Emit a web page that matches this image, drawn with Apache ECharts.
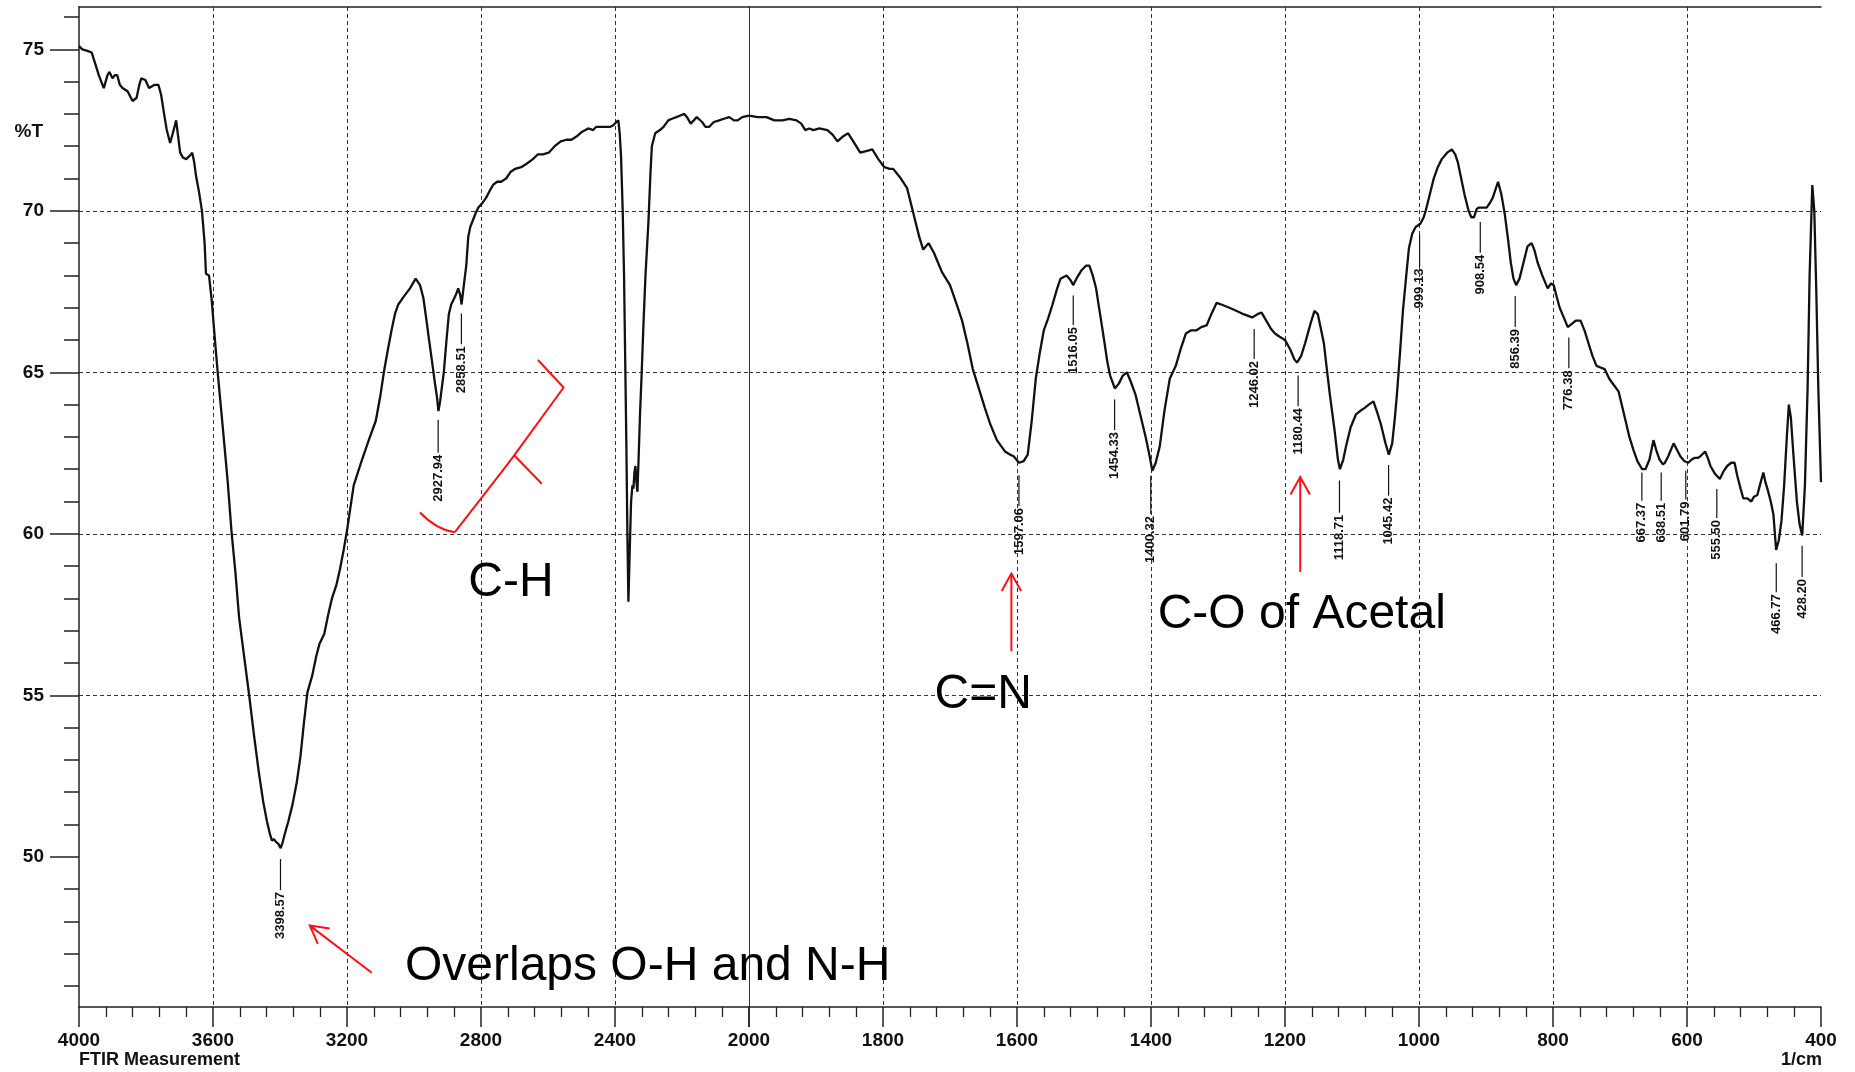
<!DOCTYPE html>
<html><head><meta charset="utf-8">
<script src="https://cdn.jsdelivr.net/npm/echarts@6/dist/echarts.min.js"></script>
<style>html,body{margin:0;padding:0;background:#fff}#c{width:1855px;height:1072px}</style>
</head><body><div id="c"></div>
<script>
// ---------- DATA ----------
// FTIR spectrum, wavenumber (1/cm) vs %T, high-wavenumber part (4000-2000)
const spectrumHigh = [
[4000,75.1],[3990,75.0],[3975,74.95],[3962,74.9],[3950,74.5],[3941,74.2],[3926,73.8],[3915,74.2],[3909,74.3],[3900,74.1],[3893,74.2],[3886,74.2],[3878,73.9],[3870,73.8],[3862,73.75],[3855,73.7],[3840,73.4],[3828,73.5],[3820,73.9],[3814,74.1],[3802,74.05],[3791,73.8],[3783,73.85],[3775,73.9],[3763,73.9],[3755,73.6],[3746,73.0],[3738,72.5],[3728,72.1],[3720,72.4],[3710,72.8],[3704,72.3],[3698,71.8],[3690,71.65],[3680,71.6],[3670,71.7],[3662,71.8],[3656,71.5],[3651,71.1],[3642,70.6],[3633,70.0],[3625,69.0],[3621,68.05],[3612,68.0],[3604,67.25],[3595,66.1],[3586,65.0],[3570,63.2],[3556,61.6],[3545,60.1],[3533,58.8],[3522,57.4],[3507,56.2],[3492,55.0],[3478,53.8],[3463,52.6],[3450,51.7],[3439,51.1],[3430,50.7],[3424,50.5],[3418,50.55],[3412,50.46],[3405,50.4],[3398,50.27],[3392,50.45],[3386,50.7],[3375,51.1],[3363,51.6],[3350,52.3],[3339,53.1],[3328,54.2],[3318,55.1],[3304,55.6],[3292,56.2],[3282,56.6],[3268,56.9],[3256,57.5],[3245,58.0],[3232,58.4],[3221,58.9],[3210,59.5],[3200,60.1],
[3180,61.5],[3155,62.3],[3135,62.9],[3114,63.5],[3100,64.3],[3090,65.0],[3078,65.7],[3067,66.3],[3057,66.8],[3047,67.1],[3030,67.35],[3012,67.6],[2995,67.9],[2982,67.7],[2972,67.3],[2964,66.7],[2955,66.0],[2947,65.4],[2938,64.7],[2931,64.2],[2927,63.8],[2922,64.1],[2916,64.6],[2911,65.0],[2903,66.0],[2896,66.8],[2889,67.1],[2882,67.25],[2875,67.4],[2868,67.6],[2862,67.4],[2858,67.1],[2850,67.8],[2844,68.3],[2838,69.2],[2832,69.5],[2817,69.9],[2808,70.1],[2799,70.2],[2785,70.4],[2775,70.6],[2764,70.8],[2752,70.9],[2740,70.9],[2725,71.0],[2712,71.2],[2698,71.3],[2680,71.35],[2665,71.45],[2645,71.6],[2630,71.75],[2615,71.75],[2598,71.8],[2580,72.0],[2562,72.15],[2545,72.2],[2530,72.2],[2515,72.3],[2498,72.45],[2480,72.55],[2465,72.5],[2456,72.6],[2440,72.6],[2425,72.6],[2414,72.6],[2405,72.65],[2396,72.75],[2390,72.8],[2386,72.4],[2382,71.7],[2377,70.0],[2373,68.0],[2369,65.0],[2366,62.7],[2363,60.0],[2360,57.9],[2356,59.5],[2352,61.0],[2348,61.5],[2345,61.4],[2342,61.9],[2339,62.1],[2336,61.6],[2333,61.3],[2329,62.5],[2325,63.8],[2321,64.8],[2315,66.5],[2309,68.0],[2300,69.7],[2294,71.2],[2290,72.0],[2280,72.4],[2266,72.5],[2255,72.6],[2241,72.8],[2230,72.85],[2217,72.9],[2205,72.95],[2193,73.0],[2185,72.9],[2174,72.7],[2165,72.8],[2156,72.9],[2140,72.75],[2130,72.6],[2119,72.6],[2105,72.75],[2089,72.8],[2075,72.85],[2059,72.9],[2045,72.8],[2034,72.8],[2020,72.9],[2000,72.95]
];
// low-wavenumber part (2000-400)
const spectrumLow = [
[2000,72.95],[1987,72.9],[1974,72.9],[1962,72.8],[1950,72.8],[1940,72.85],[1929,72.8],[1922,72.7],[1916,72.5],[1910,72.55],[1904,72.5],[1895,72.55],[1883,72.5],[1875,72.35],[1868,72.15],[1860,72.3],[1852,72.4],[1843,72.1],[1834,71.8],[1825,71.85],[1816,71.9],[1807,71.6],[1798,71.35],[1790,71.3],[1785,71.3],[1775,71.05],[1764,70.7],[1758,70.2],[1752,69.7],[1746,69.2],[1740,68.8],[1732,69.0],[1724,68.7],[1718,68.4],[1712,68.1],[1706,67.9],[1700,67.7],[1690,67.1],[1682,66.6],[1674,65.9],[1666,65.1],[1657,64.5],[1648,63.9],[1640,63.4],[1630,62.9],[1618,62.55],[1610,62.45],[1605,62.4],[1597,62.2],[1590,62.25],[1584,62.45],[1578,63.5],[1572,64.8],[1566,65.6],[1560,66.3],[1553,66.7],[1547,67.1],[1540,67.6],[1535,67.9],[1526,68.0],[1520,67.85],[1516,67.7],[1510,67.95],[1504,68.15],[1497,68.3],[1492,68.3],[1487,68.0],[1482,67.6],[1476,66.8],[1470,66.0],[1465,65.3],[1461,64.9],[1454,64.5],[1448,64.65],[1442,64.9],[1436,65.0],[1430,64.7],[1423,64.3],[1415,63.6],[1408,63.0],[1402,62.4],[1398,61.95],[1393,62.2],[1387,62.7],[1380,63.8],[1372,64.8],[1363,65.2],[1356,65.7],[1348,66.2],[1340,66.3],[1332,66.3],[1325,66.4],[1317,66.45],[1310,66.8],[1302,67.15],[1295,67.1],[1283,67.0],[1272,66.9],[1262,66.8],
[1249,66.7],[1241,66.8],[1235,66.85],[1228,66.6],[1221,66.35],[1215,66.2],[1208,66.1],[1200,66.0],[1192,65.7],[1186,65.4],[1182,65.3],[1176,65.5],[1170,65.9],[1162,66.5],[1156,66.9],[1151,66.8],[1147,66.4],[1142,65.9],[1137,65.0],[1133,64.3],[1126,63.2],[1121,62.3],[1118,62.0],[1113,62.3],[1109,62.7],[1102,63.3],[1094,63.7],[1088,63.8],[1081,63.9],[1075,64.0],[1068,64.1],[1063,63.8],[1057,63.4],[1050,62.8],[1045,62.45],[1040,62.8],[1036,63.6],[1033,64.3],[1028,65.7],[1024,66.9],[1019,68.0],[1015,68.85],[1010,69.3],[1005,69.5],[998,69.6],[993,69.8],[990,70.0],[984,70.5],[978,71.0],[972,71.35],[966,71.6],[958,71.8],[951,71.9],[946,71.75],[942,71.5],[937,71.0],[932,70.5],[926,70.0],[922,69.8],[918,69.8],[914,70.05],[911,70.1],[905,70.1],[899,70.1],[894,70.25],[890,70.4],[886,70.65],[882,70.9],[877,70.5],[872,69.9],[867,69.1],[863,68.4],[859,67.9],[855,67.7],[850,67.9],[844,68.4],[838,68.9],[832,69.0],[828,68.8],[823,68.4],[816,68.0],[808,67.6],[803,67.75],[799,67.7],[794,67.3],[790,67.0],[784,66.7],[778,66.4],[772,66.5],[766,66.6],[759,66.6],[753,66.3],[747,65.9],[741,65.5],[735,65.2],[729,65.15],[723,65.1],[716,64.8],[709,64.6],[702,64.4],[694,63.7],[686,63.0],[680,62.6],[674,62.25],[667,62.0],[662,62.0],[656,62.3],[650,62.9],[646,62.6],[641,62.3],[636,62.15],[633,62.2],[628,62.4],[620,62.8],[615,62.6],[610,62.4],[604,62.25],[598,62.2],[593,62.3],[589,62.35],[584,62.35],[580,62.4],[573,62.55],[569,62.35],[565,62.1],[558,61.85],[551,61.7],[545,61.95],[540,62.1],[534,62.2],[529,62.2],[525,61.8],[520,61.4],[516,61.1],[510,61.1],[504,61.0],[500,61.15],[495,61.2],[490,61.6],[486,61.9],[483,61.6],[480,61.4],[475,61.0],[471,60.6],[467,59.5],[463,59.8],[459,60.4],[455,61.5],[451,63.0],[448,64.0],[445,63.6],[441,62.4],[436,61.0],[432,60.3],[428,59.95],[424,61.5],[420,64.5],[417,68.0],[413,70.8],[410,70.0],[407,67.5],[404,64.5],[400,61.6]
];
// peak labels (text), top of leader line and top of the text, in %T
const peakNames   = ['3398.57','2927.94','2858.51','1597.06','1516.05','1454.33','1400.32','1246.02','1180.44','1118.71','1045.42','999.13','908.54','856.39','776.38','667.37','638.51','601.79','555.50','466.77','428.20'];
const peakLineTop = [49.93,63.53,66.82,61.81,67.38,64.16,61.8,66.34,64.9,61.65,62.13,69.27,69.65,67.36,66.08,61.9,61.9,61.95,61.39,59.09,59.63];
const peakTextTop = [48.91,62.45,65.81,60.8,66.4,63.15,60.55,65.35,63.89,60.59,61.12,68.21,68.64,66.34,65.06,60.96,60.96,61.0,60.43,58.13,58.6];
// y-axis tick values
const yMajorTicks = [50,55,60,65,70,75];
const yMinorTicks = [46,47,48,49,50,51,52,53,54,55,56,57,58,59,60,61,62,63,64,65,66,67,68,69,70,71,72,73,74,75,76];
const Y_MIN = 45.35, Y_MAX = 76.31;

// ---------- ANNOTATIONS (data coordinates: wavenumber, %T) ----------
const notesHigh = [
  {text:'C-H', w:2838, v:58.48},
  {text:'Overlaps O-H and N-H', w:3027, v:46.59}
];
const notesLow = [
  {text:'C=N', w:1723, v:55.01},
  {text:'C-O of Acetal', w:1390, v:57.49}
];
const arrowsHigh = [ {tail:[3126,46.41], tip:[3311,47.87]} ];
const arrowsLow  = [ {tail:[1608.4,56.36], tip:[1608.4,58.77]}, {tail:[1177.3,58.82], tip:[1177.3,61.76]} ];
const braceParts = [
  [[2982,60.66],[2931,60.24],[2878,60.05]],
  [[2878,60.05],[2721,62.15],[2701,62.43]],
  [[2701,62.43],[2618.5,61.55]],
  [[2701,62.43],[2553.4,64.53],[2630,65.38]]
];

const FONT = "'Liberation Sans', Arial, Helvetica, sans-serif";
const RED = '#ff1010';
const INK = '#111111';

const chart = echarts.init(document.getElementById('c'), null, {renderer:'canvas'});

function peakItems(filterFn){
  const out = [];
  peakNames.forEach((n,i)=>{ const w = parseFloat(n); if (filterFn(w)) out.push([w, peakLineTop[i], peakTextTop[i], i]); });
  return out;
}
function renderPeak(params, api){
  const w = api.value(0), i = api.value(3);
  const a = api.coord([w, api.value(1)]);
  const b = api.coord([w, api.value(2)]);
  return {type:'group', children:[
    {type:'line', shape:{x1:a[0], y1:a[1], x2:b[0], y2:b[1]-2}, style:{stroke:INK, lineWidth:1.2}},
    {type:'text', x:b[0], y:b[1], rotation:Math.PI/2,
     style:{text:peakNames[i], fontSize:13, fontWeight:'bold', fontFamily:FONT, fill:INK, align:'right', verticalAlign:'middle'}}
  ]};
}
function arrowShapes(api, arr){
  const a = api.coord(arr.tail), b = api.coord(arr.tip);
  const dx = a[0]-b[0], dy = a[1]-b[1], L = Math.hypot(dx,dy), ux = dx/L, uy = dy/L;
  const len = 20, ang = 29*Math.PI/180;
  const rot = t => [ux*Math.cos(t)-uy*Math.sin(t), ux*Math.sin(t)+uy*Math.cos(t)];
  const l1 = rot(ang), l2 = rot(-ang);
  return [
    {type:'line', shape:{x1:a[0], y1:a[1], x2:b[0], y2:b[1]}, style:{stroke:RED, lineWidth:2}},
    {type:'polyline', shape:{points:[[b[0]+l1[0]*len, b[1]+l1[1]*len],[b[0],b[1]],[b[0]+l2[0]*len, b[1]+l2[1]*len]]}, style:{stroke:RED, lineWidth:2, fill:null}}
  ];
}
function noteTexts(api, notes){
  return notes.map(n=>{ const p = api.coord([n.w, n.v]);
    return {type:'text', x:p[0], y:p[1], style:{text:n.text, fontSize:48, fontFamily:FONT, fill:'#000', align:'left', verticalAlign:'middle'}}; });
}
function renderNotesHigh(params, api){
  let ch = noteTexts(api, notesHigh);
  arrowsHigh.forEach(a=>{ ch = ch.concat(arrowShapes(api, a)); });
  braceParts.forEach((pts,k)=>{
    ch.push({type:'polyline', shape:{points:pts.map(p=>api.coord(p)), smooth: k===0 ? 0.5 : 0}, style:{stroke:RED, lineWidth:2, fill:null, lineJoin:'round'}});
  });
  return {type:'group', children:ch};
}
function renderNotesLow(params, api){
  let ch = noteTexts(api, notesLow);
  arrowsLow.forEach(a=>{ ch = ch.concat(arrowShapes(api, a)); });
  return {type:'group', children:ch};
}

const splitStyle = {color:'#333333', width:1, type:[4,3]};
const tickLabel = {fontFamily:FONT, fontWeight:'bold', fontSize:19, color:INK};
function bottomAxis(grid, min, max, interval, hideMin){
  return {gridIndex:grid, type:'value', min:min, max:max, interval:interval, inverse:true, position:'bottom',
    axisLine:{show:true, onZero:false, lineStyle:{color:'#222', width:1.5}},
    axisTick:{show:true, length:20, lineStyle:{color:'#222', width:1.5}},
    minorTick:{show:true, splitNumber:5, length:10, lineStyle:{color:'#222', width:1.3}},
    axisLabel:Object.assign({show:true, margin:24, showMinLabel:!hideMin, showMaxLabel:true, formatter:v=>String(v)}, tickLabel),
    splitLine:{show:true, showMinLine:false, showMaxLine:false, lineStyle:splitStyle},
    minorSplitLine:{show:false}};
}
function topAxis(grid, min, max){
  return {gridIndex:grid, type:'value', min:min, max:max, inverse:true, position:'top',
    axisLine:{show:true, onZero:false, lineStyle:{color:'#222', width:1.5}},
    axisTick:{show:false}, axisLabel:{show:false}, splitLine:{show:false}};
}

const option = {
  animation:false,
  backgroundColor:'#ffffff',
  grid:[
    {left:79, top:7, right:1106, bottom:65, outerBoundsMode:'none', containLabel:false},
    {left:749, top:7, right:34, bottom:65, outerBoundsMode:'none', containLabel:false}
  ],
  xAxis:[
    bottomAxis(0, 2000, 4000, 400, true),
    bottomAxis(1, 400, 2000, 200, false),
    topAxis(0, 2000, 4000),
    topAxis(1, 400, 2000)
  ],
  yAxis:[
    {gridIndex:0, type:'value', min:Y_MIN, max:Y_MAX, position:'left',
     axisLine:{show:true, onZero:false, lineStyle:{color:'#222', width:1.5}},
     axisTick:{show:true, length:29, customValues:yMajorTicks, lineStyle:{color:'#222', width:1.5}},
     axisLabel:Object.assign({show:true, margin:35, customValues:yMajorTicks, formatter:v=>String(v)}, tickLabel),
     splitLine:{show:true, showMinLine:false, showMaxLine:false, lineStyle:splitStyle}},
    {gridIndex:1, type:'value', min:Y_MIN, max:Y_MAX, position:'left',
     axisLine:{show:true, onZero:false, lineStyle:{color:'#333', width:1}},
     axisTick:{show:false, customValues:yMajorTicks}, axisLabel:{show:false},
     splitLine:{show:true, showMinLine:false, showMaxLine:false, lineStyle:splitStyle}},
    {gridIndex:0, type:'value', min:Y_MIN, max:Y_MAX, position:'left',
     axisLine:{show:false, onZero:false},
     axisTick:{show:true, length:15, customValues:yMinorTicks, lineStyle:{color:'#222', width:1.5}},
     axisLabel:{show:false}, splitLine:{show:false}}
  ],
  series:[
    {type:'line', xAxisIndex:0, yAxisIndex:0, data:spectrumHigh, showSymbol:false, symbol:'none', smooth:false,
     lineStyle:{color:INK, width:2.3}, z:5},
    {type:'line', xAxisIndex:1, yAxisIndex:1, data:spectrumLow, showSymbol:false, symbol:'none', smooth:false,
     lineStyle:{color:INK, width:2.3}, z:5},
    {type:'custom', xAxisIndex:0, yAxisIndex:0, data:peakItems(w=>w>=2000), renderItem:renderPeak, encode:{x:0,y:1}, z:6, silent:true},
    {type:'custom', xAxisIndex:1, yAxisIndex:1, data:peakItems(w=>w<2000), renderItem:renderPeak, encode:{x:0,y:1}, z:6, silent:true},
    {type:'custom', xAxisIndex:0, yAxisIndex:0, data:[[3000,50]], renderItem:renderNotesHigh, encode:{x:0,y:1}, z:7, silent:true, clip:false},
    {type:'custom', xAxisIndex:1, yAxisIndex:1, data:[[1200,50]], renderItem:renderNotesLow, encode:{x:0,y:1}, z:7, silent:true, clip:false}
  ],
  graphic:[
    {type:'text', x:43, y:132, style:{text:'%T', fontFamily:FONT, fontWeight:'bold', fontSize:19, fill:INK, align:'right', verticalAlign:'middle'}},
    {type:'text', x:79, y:1060, style:{text:'FTIR Measurement', fontFamily:FONT, fontWeight:'bold', fontSize:18, fill:INK, align:'left', verticalAlign:'middle'}},
    {type:'text', x:1822, y:1060, style:{text:'1/cm', fontFamily:FONT, fontWeight:'bold', fontSize:18, fill:INK, align:'right', verticalAlign:'middle'}}
  ]
};
chart.setOption(option);
</script>
</body></html>
